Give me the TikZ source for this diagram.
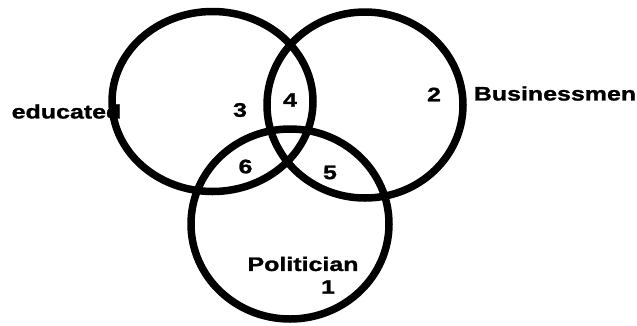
\documentclass[tikz,border=0pt]{standalone}
\usepackage{fontspec}
\newfontfamily\labfont[FakeStretch=1.28,BoldFeatures={FakeBold=1.3}]{Liberation Sans}
\begin{document}
\begin{tikzpicture}[x=1pt,y=-1pt,
  ring/.style={draw=black,line width=7.5pt},
  lab/.style={inner sep=0pt,font=\labfont\fontsize{19.5}{20}\selectfont\bfseries}]
\useasboundingbox[fill=white] (0,0) rectangle (637,325);
\draw[ring] (212.5,101.5) ellipse [x radius=100.5pt, y radius=90pt];
\draw[ring] (365,105) ellipse [x radius=98pt, y radius=93pt];
\draw[ring] (290,224) ellipse [x radius=99pt, y radius=95pt];
\node[lab] (edu) at (66.5,111.5) {educated};
\node[lab] (bus) at (555,93.5) {Businessmen};
\node[lab] (pol) at (303,264) {Politician};
\node[lab] (n1) at (328,287) {1};
\node[lab] (n2) at (434,94.5) {2};
\node[lab] (n3) at (240,110) {3};
\node[lab] (n4) at (290,100) {4};
\node[lab] (n5) at (330,172.5) {5};
\node[lab] (n6) at (245.5,166.5) {6};
\end{tikzpicture}
\end{document}
